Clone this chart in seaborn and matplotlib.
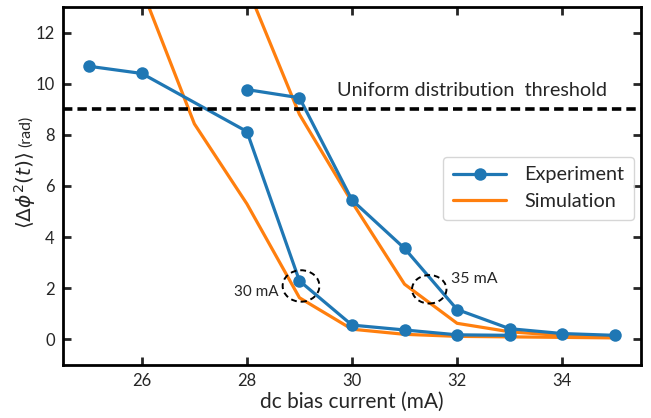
import matplotlib
matplotlib.use("Agg")
import matplotlib.pyplot as plt
from matplotlib.patches import Ellipse
from matplotlib.lines import Line2D
import seaborn as sns
import pandas as pd

# ---- data ----
exp_a_x = [25, 26, 28, 29, 30, 31, 32, 33]
exp_a_y = [10.68, 10.40, 8.13, 2.29, 0.56, 0.37, 0.18, 0.16]
exp_b_x = [28, 29, 30, 31, 32, 33, 34, 35]
exp_b_y = [9.77, 9.45, 5.45, 3.56, 1.17, 0.42, 0.23, 0.16]
sim_a_x = [26, 27, 28, 29, 30, 31, 32, 33, 34, 35]
sim_a_y = [13.7, 8.43, 5.3, 1.63, 0.40, 0.20, 0.12, 0.10, 0.08, 0.06]
sim_b_x = [28, 29, 30, 31, 32, 33, 34, 35]
sim_b_y = [13.8, 8.8, 5.37, 2.16, 0.63, 0.30, 0.15, 0.10]
threshold = 9
x_ticks = [26, 28, 30, 32, 34]
y_ticks = [0, 2, 4, 6, 8, 10, 12]

sns.set_style("ticks")
plt.rcParams['font.family'] = ['Lato', 'DejaVu Sans']
plt.rcParams['mathtext.fontset'] = 'dejavusans'

BLUE = "#1f77b4"
ORANGE = "#ff7f0e"

fig = plt.figure(figsize=(6.51, 4.18), dpi=100)
ax = fig.add_axes([0.0968, 0.1268, 0.8878, 0.8565])

def df(x, y):
    return pd.DataFrame({"x": x, "y": y})

for sx, sy in [(sim_a_x, sim_a_y), (sim_b_x, sim_b_y)]:
    sns.lineplot(data=df(sx, sy), x="x", y="y", ax=ax, color=ORANGE, lw=2.3,
                 sort=False, estimator=None, zorder=2)
for ex, ey in [(exp_a_x, exp_a_y), (exp_b_x, exp_b_y)]:
    sns.lineplot(data=df(ex, ey), x="x", y="y", ax=ax, color=BLUE, lw=2.3,
                 marker='o', markersize=9, markeredgewidth=0,
                 sort=False, estimator=None, zorder=3)

ax.axhline(threshold, color='black', lw=2.6, dashes=(2.6, 1.4), zorder=4)
ax.text(32.28, 9.42, "Uniform distribution  threshold", ha='center', va='bottom',
        fontsize=14.3)

# annotations
ax.add_patch(Ellipse((29.03, 2.09), 0.70, 1.23, fill=False, ls=(0, (3, 2)),
                     lw=1.4, ec='black', zorder=5))
ax.text(28.6, 1.85, "30 mA", ha='right', va='center', fontsize=11)
ax.add_patch(Ellipse((31.47, 1.96), 0.655, 1.11, fill=False, ls=(0, (3, 2)),
                     lw=1.4, ec='black', zorder=5))
ax.text(31.88, 2.38, "35 mA", ha='left', va='center', fontsize=11.5)

ax.set_xlim(24.5, 35.5)
ax.set_ylim(-1, 13)
ax.set_xticks(x_ticks)
ax.set_yticks(y_ticks)
ax.tick_params(direction='in', length=6, width=2, labelsize=12,
               top=True, right=True, pad=6)
for s in ax.spines.values():
    s.set_linewidth(2)
    s.set_color('black')

ax.set_xlabel("dc bias current (mA)", fontsize=15, labelpad=2)
ax.set_ylabel("")
# y label: larger math part, smaller unit
fig.text(25 / 651, 1 - 190 / 418, r"$\langle\Delta\phi^2(t)\rangle$", rotation=90,
         ha='center', va='center', fontsize=14.5)
fig.text(26 / 651, 1 - 131 / 418, "(rad)", rotation=90,
         ha='center', va='center', fontsize=11.5)

handles = [Line2D([], [], color=BLUE, lw=2.3, marker='o', markersize=9, markeredgewidth=0),
           Line2D([], [], color=ORANGE, lw=2.3)]
ax.legend(handles, ["Experiment", "Simulation"], fontsize=14.3, loc='upper left',
          bbox_to_anchor=(0.64, 0.61), handlelength=2.7, frameon=True,
          borderpad=0.5, labelspacing=0.5, handletextpad=0.9)

fig.savefig("out.png", dpi=100)
